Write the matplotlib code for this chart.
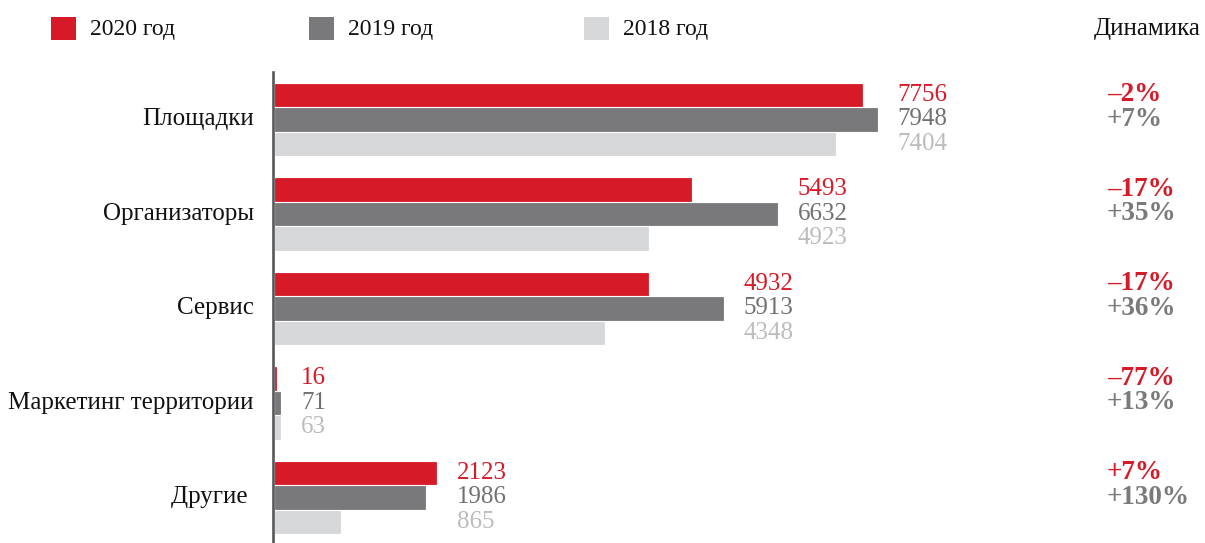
import matplotlib
matplotlib.use("Agg")
import matplotlib.pyplot as plt
from matplotlib.patches import Rectangle
from matplotlib.transforms import blended_transform_factory

plt.rcParams['font.family'] = ['Liberation Serif', 'DejaVu Serif']

categories = ["Площадки", "Организаторы", "Сервис", "Маркетинг территории", "Другие "]
years = ["2020 год", "2019 год", "2018 год"]
v2020 = [7756, 5493, 4932, 16, 2123]
v2019 = [7948, 6632, 5913, 71, 1986]
v2018 = [7404, 4923, 4348, 63, 865]
dyn_2020 = ["–2%", "–17%", "–17%", "–77%", "+7%"]
dyn_2019 = ["+7%", "+35%", "+36%", "+13%", "+130%"]
dyn_title = "Динамика"

bar_colors = ["#D71A28", "#79797B", "#D6D7D9"]
text_colors = ["#D71A28", "#717173", "#BBBCBE"]
dyn_colors = ["#D71A28", "#7A7A7C"]

W, H = 1205, 543
fig = plt.figure(figsize=(W / 100, H / 100), dpi=100)

# axes geometry in pixels
x0_px = 275
px_per_unit = 0.0757
y_top_px, y_bot_px = 72, 543
group_px = 94.5
center0_px = 119.5
ax = fig.add_axes([x0_px / W, 0, 1 - x0_px / W, (y_bot_px - y_top_px) / H])
ax.set_xlim(0, (W - x0_px) / px_per_unit)
ax.set_ylim((y_bot_px - center0_px) / group_px, -(center0_px - y_top_px) / group_px)

pitch = 24.5 / group_px
height = 22.5 / group_px
series = [v2020, v2019, v2018]
fs = 18

for j, vals in enumerate(series):
    ys = [i + (j - 1) * pitch for i in range(len(categories))]
    ax.barh(ys, vals, height=height, color=bar_colors[j], edgecolor=bar_colors[j], linewidth=0.6)

for i in range(len(categories)):
    mx = max(s[i] for s in series)
    for j, vals in enumerate(series):
        y = i + (j - 1) * pitch
        ax.annotate(str(vals[i]), xy=(mx, y), xytext=(15, 0), textcoords='offset points',
                    ha='left', va='center', fontsize=fs, color=text_colors[j])

for sp in ['top', 'right', 'bottom']:
    ax.spines[sp].set_visible(False)
ax.spines['left'].set_color('#58585A')
ax.spines['left'].set_linewidth(1.9)
ax.spines['left'].set_position(('outward', 1.8))
ax.set_xticks([])
ax.set_yticks([])
ax.patch.set_alpha(0)

# category labels
tr = blended_transform_factory(fig.transFigure, ax.transData)
for i, c in enumerate(categories):
    ax.text(254 / W, i, c, transform=tr, ha='right', va='center', fontsize=fs, color='#111111')

# dynamics column
for i in range(len(categories)):
    ax.text(1107 / W, i - pitch, dyn_2020[i], transform=tr, ha='left', va='center',
            fontsize=19.5, fontweight='bold', color=dyn_colors[0])
    ax.text(1107 / W, i, dyn_2019[i], transform=tr, ha='left', va='center',
            fontsize=19.5, fontweight='bold', color=dyn_colors[1])

fig.text(1201 / W, 1 - 29 / H, dyn_title, ha='right', va='center', fontsize=18, color='#111111')

# legend
sq_x = [51, 309, 584]
tx_x = [90, 348, 623]
for k in range(3):
    fig.patches.append(Rectangle((sq_x[k] / W, 1 - 40 / H), 25 / W, 23 / H,
                                 transform=fig.transFigure, color=bar_colors[k], linewidth=0))
    fig.text(tx_x[k] / W, 1 - 29 / H, years[k], ha='left', va='center', fontsize=17, color='#111111')

fig.savefig("out.png", dpi=100)
